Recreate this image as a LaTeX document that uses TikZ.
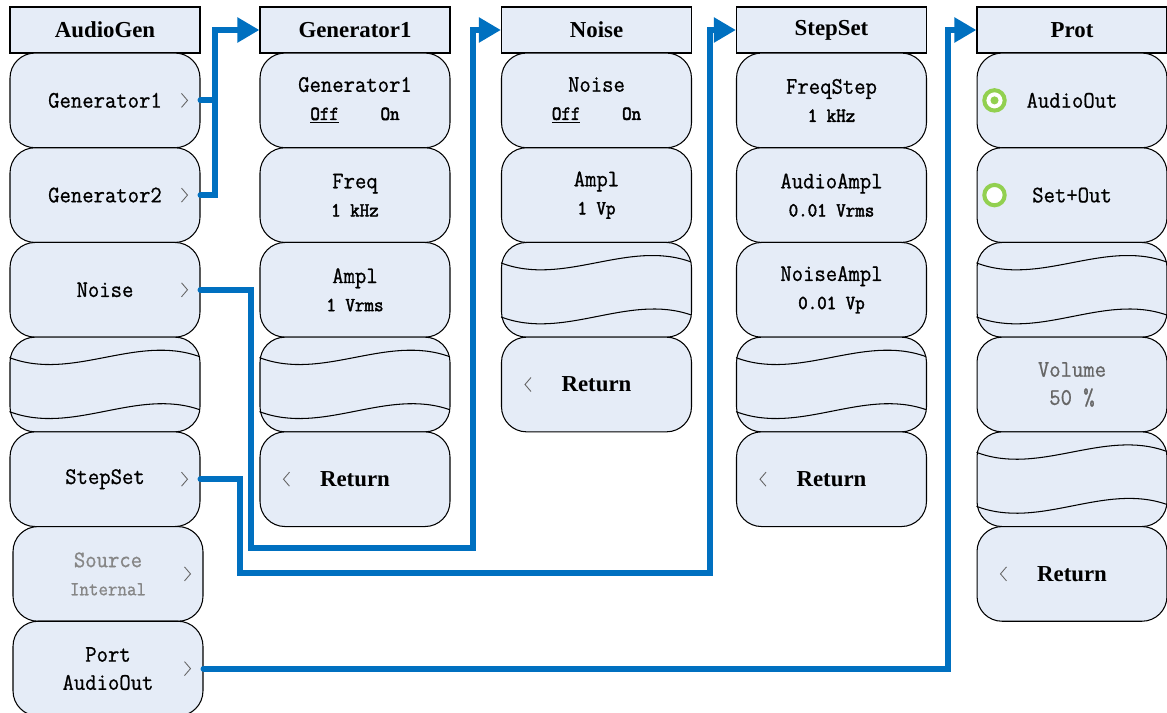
\documentclass[tikz,border=0pt]{standalone}
\usepackage{fontspec}
\setmainfont{Liberation Serif}
\newfontfamily\monofont[FakeBold=0.8,FakeStretch=0.93]{Latin Modern Mono}
\newfontfamily\monobold[FakeBold=2.2,FakeStretch=0.93]{Latin Modern Mono}
\usepackage{xcolor}
\usetikzlibrary{arrows.meta,calc}
\definecolor{menufill}{HTML}{E5ECF7}
\definecolor{linkblue}{HTML}{0070C0}
\definecolor{radiogreen}{HTML}{92D050}
\definecolor{greytext}{HTML}{868686}
\newcommand{\val}[1]{{\monobold\fontsize{11.3}{15.5}\selectfont #1}}
\newcommand{\wavelines}[1]{%
  \begin{scope}[shift={(#1.north west)}]
    \draw[waveline] (0,21) .. controls (63,45) and (127,-3) .. (190,20);
    \draw[waveline] (0,75) .. controls (63,99) and (127,51) .. (190,73);
  \end{scope}}
\newcommand{\nextmark}[1]{\draw[chev] ($(#1.east)+(-19,-7)$) -- ++(6,7) -- ++(-6,7);}
\newcommand{\backmark}[1]{\draw[chev] ($(#1.west)+(30,-7)$) -- ++(-6,7) -- ++(6,7);}

\begin{document}
\begin{tikzpicture}[x=0.02cm,y=-0.02cm,
  menutitle/.style={draw,line width=0.7pt,fill=menufill,inner sep=0pt,minimum width=3.8cm,minimum height=0.92cm,font=\fontsize{13}{15}\selectfont\bfseries},
  menubtn/.style={draw,line width=0.6pt,fill=menufill,rounded corners=0.5cm,inner sep=0pt,minimum width=3.8cm,minimum height=1.894cm,align=center,font=\monofont\fontsize{13.5}{16}\selectfont},
  retbtn/.style={menubtn,font=\fontsize{13}{15}\selectfont\bfseries},
  waveline/.style={line width=0.6pt},
  chev/.style={draw=black!60,line width=0.5pt},
  radio/.style={draw=radiogreen,line width=2.3pt,fill=white},
  link/.style={draw=linkblue,line width=3.4pt,line cap=round,-{Triangle[length=12.5pt,width=13.6pt]}}]
  \useasboundingbox (0,0) rectangle (1167,713);

  % AudioGen
  \node[menutitle] (tAudio) at (105,30) {AudioGen};
  \node[menubtn] (aGen1) at (105,100.4) {Generator1};
  \node[menubtn] (aGen2) at (105,195.1) {Generator2};
  \node[menubtn] (aNoise) at (105,289.8) {Noise};
  \node[menubtn] (aWave) at (105,384.5) {};
  \node[menubtn] (aStep) at (105,479.2) {StepSet};
  \node[menubtn,text=greytext] (aSource) at (108,573.9) {Source\\{\fontsize{11.3}{16}\selectfont Internal}};
  \node[menubtn] (aPort) at (108,668.6) {Port\\AudioOut};
  \wavelines{aWave}
  \foreach \b in {aGen1,aGen2,aNoise,aStep,aSource,aPort} {\nextmark{\b}}

  % Generator1
  \node[menutitle] (tGen) at (355,30) {Generator1};
  \node[menubtn] (gSwitch) at (355,100.4) {Generator1\\\val{\underline{Off}\hspace{2.1em}On}};
  \node[menubtn] (gFreq) at (355,195.1) {Freq\\\val{1 kHz}};
  \node[menubtn] (gAmpl) at (355,289.8) {Ampl\\\val{1 Vrms}};
  \node[menubtn] (gWave) at (355,384.5) {};
  \node[retbtn] (gReturn) at (355,479.2) {Return};
  \wavelines{gWave}
  \backmark{gReturn}

  % Noise
  \node[menutitle] (tNoise) at (596.5,30) {Noise};
  \node[menubtn] (nSwitch) at (596.5,100.4) {Noise\\\val{\underline{Off}\hspace{2.1em}On}};
  \node[menubtn] (nAmpl) at (596.5,195.1) {Ampl\\\val{1 Vp}};
  \node[menubtn] (nWave) at (596.5,289.8) {};
  \node[retbtn] (nReturn) at (596.5,384.5) {Return};
  \wavelines{nWave}
  \backmark{nReturn}

  % StepSet
  \node[menutitle] (tStep) at (831.5,30) {StepSet};
  \node[menubtn] (sFreq) at (831.5,100.4) {FreqStep\\\val{1 kHz}};
  \node[menubtn] (sAudio) at (831.5,195.1) {AudioAmpl\\\val{0.01 Vrms}};
  \node[menubtn] (sNoise) at (831.5,289.8) {NoiseAmpl\\\val{0.01 Vp}};
  \node[menubtn] (sWave) at (831.5,384.5) {};
  \node[retbtn] (sReturn) at (831.5,479.2) {Return};
  \wavelines{sWave}
  \backmark{sReturn}

  % Prot
  \node[menutitle] (tProt) at (1072,30) {Prot};
  \node[menubtn] (pAudio) at (1072,100.4) {AudioOut};
  \node[menubtn] (pSet) at (1072,195.1) {Set+Out};
  \node[menubtn] (pWave1) at (1072,289.8) {};
  \node[menubtn,text=black!60] (pVolume) at (1072,384.5) {Volume\\50 \%};
  \node[menubtn] (pWave2) at (1072,479.2) {};
  \node[retbtn] (pReturn) at (1072,573.9) {Return};
  \wavelines{pWave1}
  \wavelines{pWave2}
  \backmark{pReturn}
  \draw[radio] ($(pAudio.west)+(18,0)$) circle (5.8pt);
  \fill[radiogreen] ($(pAudio.west)+(18,0)$) circle (2.3pt);
  \draw[radio] ($(pSet.west)+(18,0)$) circle (5.8pt);

  % links
  \draw[link] (aGen1.east) -| (215,30) -- (tGen.west);
  \draw[link,-] (aGen2.east) -| (215,100);
  \draw[link] (aNoise.east) -| (251,548) -| (473,30) -- (tNoise.west);
  \draw[link] (aStep.east) -| (240,573) -| (710,30) -- (tStep.west);
  \draw[link] (aPort.east) -| (948,30) -- (tProt.west);
\end{tikzpicture}
\end{document}
